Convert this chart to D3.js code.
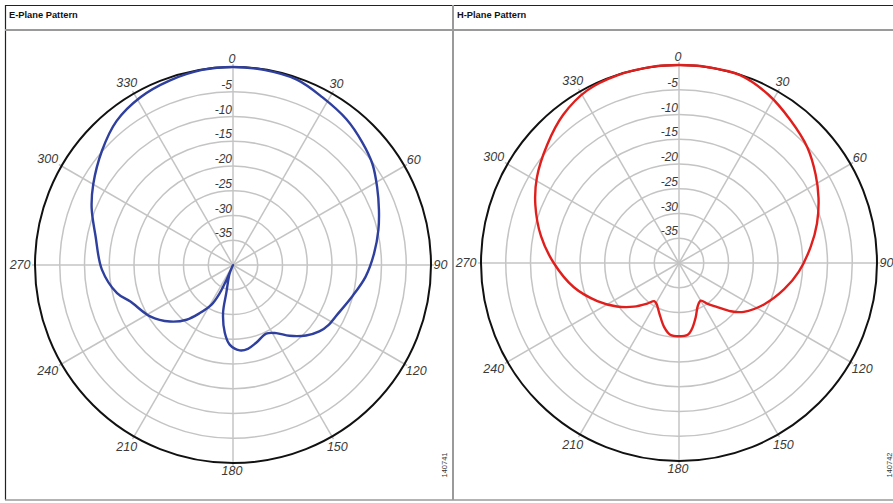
<!DOCTYPE html>
<html>
<head>
<meta charset="utf-8">
<script src="https://cdn.jsdelivr.net/npm/d3@7"></script>
<style>
  html, body { margin: 0; padding: 0; background: #fff; }
  svg { display: block; }
</style>
</head>
<body>
<svg id="chart" width="893" height="503"></svg>
<script>
// ---------------- data ----------------
const panelTitles = ["E-Plane Pattern", "H-Plane Pattern"];
const figureIds = ["140741", "140742"];
const angleTicks = [0, 30, 60, 90, 120, 150, 180, 210, 240, 270, 300, 330];
const dbTicks = [-5, -10, -15, -20, -25, -30, -35];
const dbRings = [0, -5, -10, -15, -20, -25, -30, -35];
const dbDomain = [-40, 0];

// E-plane (degrees clockwise from top, dB)
const eAngles = [0, 9, 19, 28, 38, 46.5, 54, 61.6, 69.4, 76.5, 85.3, 95, 104.8, 116.6, 122, 127.6, 134, 141.4, 147.6, 154.2, 163.4, 169.9, 175.5, 182.4, 186.9, 191.7, 193.5, 201.7, 202.6, 203.7, 205.2, 208.4, 214.6, 220.3, 228.1, 238.2, 250.4, 256.4, 268, 282, 292, 300, 311, 321, 331, 341, 351];
const eDb =    [0, -0.1, -0.4, -1.6, -2.7, -4.0, -5.2, -6.9, -8.5, -9.8, -11.4, -13.1, -15.1, -16.8, -17.2, -18.0, -19.5, -21.7, -23.7, -24.6, -23.6, -22.8, -22.7, -23.9, -26.2, -30.1, -34.2, -38.2, -40, -36.7, -33.7, -30.9, -28.2, -25.5, -22.9, -20.3, -18.0, -15.9, -13.5, -11.6, -9.2, -7.4, -4.9, -2.6, -1.3, -0.6, -0.1];

// H-plane
const hAngles = [0, 8, 18, 28, 38, 48, 57, 65, 74, 83, 94, 104, 116, 127, 133, 139, 145, 150, 156, 163, 169, 173, 180, 187, 193, 201, 209, 213, 218, 226, 235, 245, 257, 270, 281, 292, 301, 312, 322, 332, 342, 352];
const hDb =    [0, 0, -0.1, -1.5, -3.4, -5.1, -7.1, -8.9, -11.0, -13.2, -15.7, -18.1, -20.9, -23.6, -25.7, -28.2, -29.9, -31.2, -30.6, -28.5, -26.4, -25.4, -25.2, -25.4, -26.7, -29.0, -30.6, -30.8, -29.6, -27.3, -24.7, -21.8, -18.2, -14.7, -11.6, -8.7, -6.5, -4.2, -2.0, -0.5, -0.1, 0];

const series = [
  { angles: eAngles, db: eDb, color: "#2e3f9e" },
  { angles: hAngles, db: hDb, color: "#e01f1c" }
];

// ---------------- layout ----------------
const svg = d3.select("#chart");
const W = 893, H = 503;
const R = 198;
const panels = [
  { x0: 5, x1: 453, cx: 233, cy: 265 },
  { x0: 453, x1: 893, cx: 679, cy: 263 }
];
const rScale = d3.scaleLinear().domain(dbDomain).range([0, R]);
const toRad = d => d * Math.PI / 180;

// frame
const frame = svg.append("g");
frame.append("line").attr("x1", 5).attr("x2", W).attr("y1", 5.5).attr("y2", 5.5)
  .attr("stroke", "#222").attr("stroke-width", 1.2);
frame.append("line").attr("x1", 5.5).attr("x2", 5.5).attr("y1", 5).attr("y2", 500)
  .attr("stroke", "#222").attr("stroke-width", 1.2);
frame.append("line").attr("x1", 5).attr("x2", W).attr("y1", 30).attr("y2", 30)
  .attr("stroke", "#9a9a9a").attr("stroke-width", 2);
frame.append("line").attr("x1", 453).attr("x2", 453).attr("y1", 5).attr("y2", 500)
  .attr("stroke", "#9a9a9a").attr("stroke-width", 2);
frame.append("line").attr("x1", 5).attr("x2", W).attr("y1", 500).attr("y2", 500)
  .attr("stroke", "#9a9a9a").attr("stroke-width", 1.5);

panels.forEach((p, i) => {
  // title
  svg.append("text")
    .attr("x", p.x0 + 4).attr("y", 18)
    .attr("font-family", "Liberation Sans, Arial, sans-serif")
    .attr("font-weight", "bold").attr("font-size", 9.3)
    .attr("fill", "#111")
    .text(panelTitles[i]);

  const g = svg.append("g").attr("transform", `translate(${p.cx},${p.cy})`);

  // rings
  g.selectAll("circle.ring").data(dbRings.slice(1)).join("circle")
    .attr("class", "ring")
    .attr("r", d => rScale(d))
    .attr("fill", "none").attr("stroke", "#c4c4c4").attr("stroke-width", 1.5);

  // radial lines
  g.selectAll("line.spoke").data(angleTicks).join("line")
    .attr("class", "spoke")
    .attr("x1", 0).attr("y1", 0)
    .attr("x2", d => (R + 3) * Math.sin(toRad(d)))
    .attr("y2", d => -(R + 3) * Math.cos(toRad(d)))
    .attr("stroke", "#c4c4c4").attr("stroke-width", 1.5);

  // outer circle
  g.append("circle").attr("r", rScale(0))
    .attr("fill", "none").attr("stroke", "#111").attr("stroke-width", 2);

  // dB labels
  g.selectAll("text.db").data(dbTicks).join("text")
    .attr("class", "db")
    .attr("x", -1).attr("y", d => -rScale(d) - 3)
    .attr("text-anchor", "end")
    .attr("font-family", "Liberation Sans, Arial, sans-serif")
    .attr("font-style", "italic").attr("font-size", 12)
    .attr("fill", "#3a3a3a")
    .text(d => d);

  // angle labels
  const lbl = g.selectAll("text.ang").data(angleTicks).join("text")
    .attr("class", "ang")
    .attr("text-anchor", "middle")
    .attr("dominant-baseline", "central")
    .attr("font-family", "Liberation Sans, Arial, sans-serif")
    .attr("font-style", "italic").attr("font-size", 12.5)
    .attr("fill", "#3a3a3a")
    .text(d => d);
  lbl.each(function(d) {
    const w = this.getComputedTextLength();
    const h = 9;
    const a = toRad(d);
    const r = R + 3.5 + Math.abs(Math.sin(a)) * w / 2 + Math.abs(Math.cos(a)) * h / 2;
    d3.select(this).attr("x", r * Math.sin(a) - 1).attr("y", -r * Math.cos(a));
  });

  // pattern curve
  const s = series[i];
  const pts = s.angles.map((a, k) => [toRad(a), rScale(s.db[k])]);
  const line = d3.lineRadial().curve(d3.curveCatmullRomClosed.alpha(0.5));
  g.append("path").attr("d", line(pts))
    .attr("fill", "none").attr("stroke", s.color).attr("stroke-width", 2.4)
    .attr("stroke-linejoin", "round");

  // figure id
  const fx = i === 0 ? 444 : 889;
  svg.append("text")
    .attr("transform", `translate(${fx},465) rotate(-90)`)
    .attr("text-anchor", "middle").attr("dominant-baseline", "central")
    .attr("font-family", "Liberation Sans, Arial, sans-serif")
    .attr("font-size", 7.5).attr("fill", "#333")
    .text(figureIds[i]);
});
</script>
</body>
</html>
